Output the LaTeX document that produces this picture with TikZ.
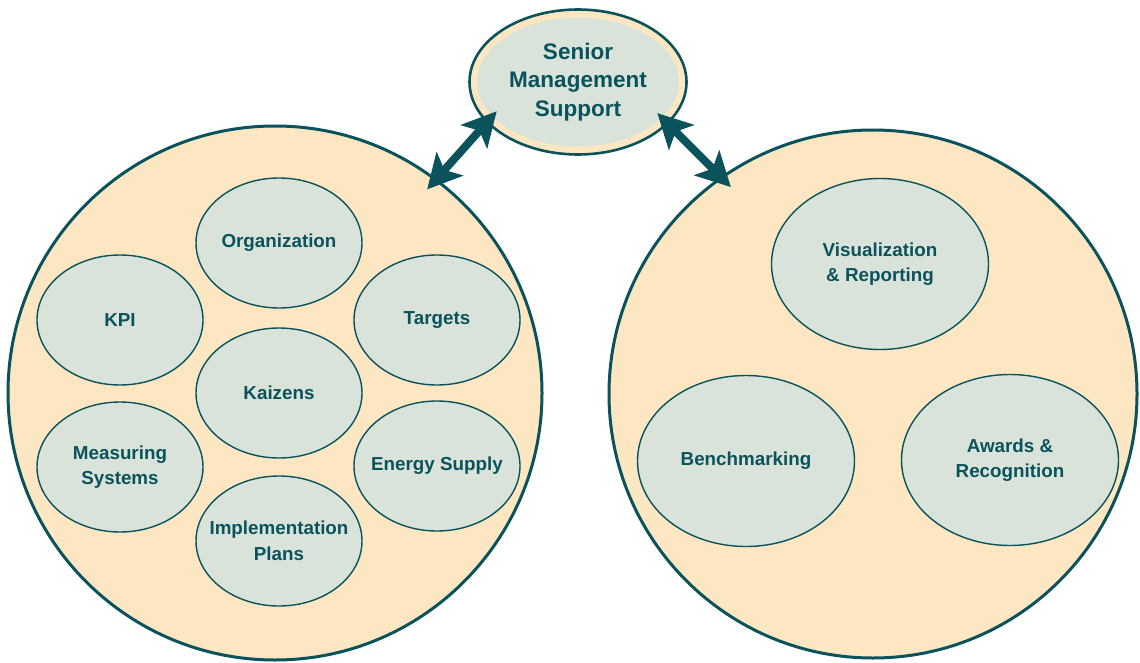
\documentclass[tikz,border=0pt]{standalone}
\usepackage{fontspec}
\setmainfont{Liberation Sans}
\usetikzlibrary{shapes.geometric,arrows.meta}

\definecolor{teal}{HTML}{0A535C}
\definecolor{sand}{HTML}{FDE7C3}
\definecolor{sage}{HTML}{DAE3DA}

\begin{document}
\begin{tikzpicture}[x=1pt, y=-1pt,
    group/.style={circle, draw=teal, line width=3pt, fill=sand,
        minimum size=#1, inner sep=0pt, outer sep=0pt},
    topic/.style={ellipse, draw=teal, line width=1.4pt, fill=sage,
        minimum width=166pt, minimum height=130pt, inner sep=-20pt,
        align=center, text=teal, font=\bfseries\fontsize{18.8}{25.5}\selectfont},
    bigtopic/.style={topic, minimum width=217pt, minimum height=171pt},
    link/.style={teal, line width=8pt,
        {Stealth[length=34pt, width=35pt, inset=8pt]}-{Stealth[length=34pt, width=35pt, inset=8pt]}}
]
    \useasboundingbox (0,0) rectangle (1140,663);

    % Outer groups
    \node[group=534pt] (left) at (275,393) {};
    \node[group=528pt] (right) at (873,394) {};

    % Topics of the left group
    \node[topic] (org)   at (279,243) {Organization};
    \node[topic] (kpi)   at (120,320) {KPI};
    \node[topic] (tgt)   at (437,320) {Targets};
    \node[topic] (kai)   at (279,393) {Kaizens};
    \node[topic] (meas)  at (120,467) {Measuring\\Systems};
    \node[topic] (enrg)  at (437,466) {Energy Supply};
    \node[topic] (impl)  at (279,541) {Implementation\\Plans};

    % Topics of the right group
    \node[bigtopic] (vis)   at (880,264) {Visualization\\\& Reporting};
    \node[bigtopic] (bench) at (746,461) {Benchmarking};
    \node[bigtopic] (award) at (1010,460) {Awards \&\\Recognition};

    % Senior management on top
    \node[ellipse, draw=teal, line width=2.6pt, fill=sand,
        minimum width=217pt, minimum height=145pt, inner sep=-20pt,
        path picture={\fill[sage] (path picture bounding box.center)
            ellipse (101pt and 64.5pt);},
        align=center, text=teal, font=\bfseries\fontsize{22.5}{28.5}\selectfont]
        (sms) at (578,82) {Senior\\Management\\Support};

    % Links
    \draw[link, shorten <=-15.4pt, shorten >=-12.9pt] (sms.204.6) -- (left.53.6);
    \draw[link, shorten <=-15.4pt, shorten >=-13.2pt] (sms.335.4) -- (right.125);
\end{tikzpicture}
\end{document}
